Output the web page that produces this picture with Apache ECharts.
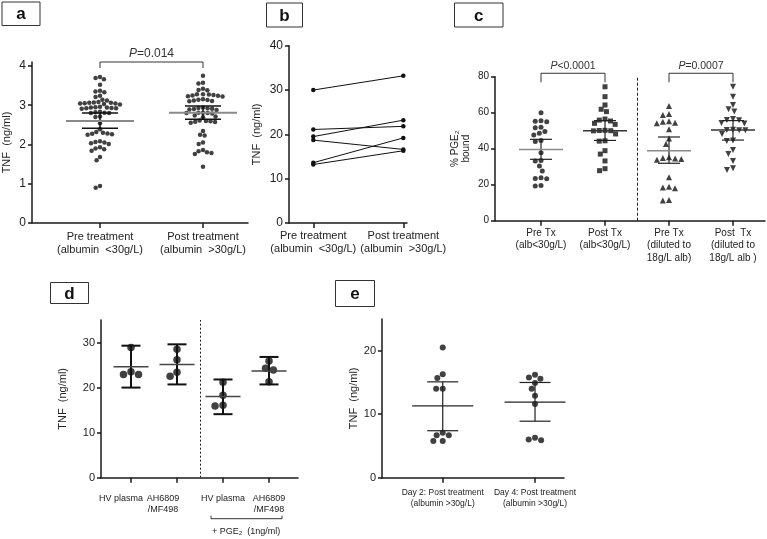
<!DOCTYPE html>
<html><head><meta charset="utf-8">
<script src="https://cdn.jsdelivr.net/npm/echarts@6/dist/echarts.min.js"></script>
<style>html,body{margin:0;padding:0;background:#fff}#c{width:767px;height:539px}</style>
</head><body><div id="c"></div>
<script>
// ---------------- DATA ----------------
const aCategories = ['Pre treatment\n(albumin  <30g/L)', 'Post treatment\n(albumin  >30g/L)'];
const aPre = [3.72, 3.69, 3.66, 3.52, 3.37, 3.35, 3.33, 3.24, 3.21, 3.14, 3.12,
  3.08, 3.07, 3.06, 3.06, 3.05, 3.04, 3.04, 3.03, 3.02,
  2.96, 2.95, 2.94, 2.94, 2.93, 2.92, 2.92, 2.91,
  2.83, 2.82, 2.81, 2.80, 2.80, 2.71, 2.70, 2.54, 2.39,
  2.32, 2.30, 2.28, 2.27, 2.26, 2.25,
  2.08, 2.06, 2.05, 2.03, 2.01, 1.93, 1.90, 1.88, 1.84,
  1.68, 1.60, 0.94, 0.90];
const aPost = [3.75, 3.57, 3.55, 3.42, 3.39, 3.38,
  3.28, 3.27, 3.25, 3.23, 3.22, 3.24, 3.26, 3.28,
  3.15, 3.13, 3.11, 3.10, 3.12, 3.14,
  2.94, 2.92, 2.90, 2.88, 2.91, 2.93, 2.89,
  2.81, 2.80, 2.80, 2.79, 2.81, 2.74, 2.71, 2.69,
  2.61, 2.59, 2.57, 2.55, 2.58, 2.60,
  2.34, 2.25, 2.23, 2.05, 2.01,
  1.86, 1.83, 1.80, 1.78, 1.76, 1.43];
const aMean = [2.60, 2.81];
const aLow = [2.41, 2.64];
const aHigh = [2.80, 2.98];
const aYTicks = [0, 1, 2, 3, 4];
const aPText = ['=0.014'];

const bCategories = ['Pre treatment\n(albumin  <30g/L)', 'Post treatment\n(albumin  >30g/L)'];
const bPre = [30.0, 21.1, 19.5, 18.7, 13.6, 13.2];
const bPost = [33.2, 21.8, 23.2, 16.6, 19.2, 16.3];

const cCategories = ['Pre Tx\n(alb<30g/L)', 'Post Tx\n(alb<30g/L)', 'Pre Tx\n(diluted to\n18g/L alb)', 'Post  Tx\n(diluted to\n18g/L alb )'];
const cPre = [60.0, 55.5, 55.2, 55.0, 51.9, 51.6, 49.5, 48.6, 47.6, 44.6, 44.0, 37.8, 33.5, 33.1, 30.4, 27.6, 23.9, 23.5, 23.3, 19.5, 19.3];
const cPost = [74.4, 68.9, 64.3, 61.9, 60.6, 56.5, 55.9, 55.4, 54.1, 53.5, 50.2, 50.1, 50.0, 49.9, 48.2, 44.4, 44.2, 38.9, 37.0, 33.2, 28.9, 27.8];
const cPreDil = [63.7, 59.3, 58.7, 55.0, 54.4, 54.1, 55.2, 50.8, 45.6, 42.6, 35.2, 34.8, 34.6, 34.3, 33.8, 24.1, 18.9, 18.4, 18.0, 11.5, 11.2];
const cPostDil = [74.4, 68.9, 64.3, 61.9, 60.6, 56.5, 56.0, 55.8, 54.3, 54.0, 50.5, 50.4, 50.3, 50.2, 48.2, 44.5, 44.3, 39.3, 37.0, 33.2, 29.1, 28.2];
const cMean = [39.5, 50.0, 38.9, 50.4];
const cLow = [34.1, 44.6, 31.9, 44.8];
const cHigh = [45.2, 55.6, 46.5, 55.6];
const cYTicks = [0, 20, 40, 60, 80];
const cPText = ['<0.0001', '=0.0007'];

const dCategories = ['HV plasma', 'AH6809\n/MF498', 'HV plasma', 'AH6809\n/MF498'];
const dHV = [28.9, 23.5, 22.9, 22.9];
const dAH = [28.5, 26.2, 22.5, 23.4];
const dHVPGE = [21.2, 18.3, 15.9, 16.1];
const dAHPGE = [25.9, 24.3, 23.9, 21.3];
const dMean = [24.6, 25.1, 18.0, 23.7];
const dLow = [20.0, 20.7, 14.1, 20.7];
const dHigh = [29.3, 29.6, 21.8, 26.8];
const dYTicks = [0, 10, 20, 30];
const dGroupLabel = '+ PGE₂  (1ng/ml)';

const eCategories = ['Day 2: Post treatment\n(albumin >30g/L)', 'Day 4: Post treatment\n(albumin >30g/L)'];
const eDay2 = [20.5, 16.3, 15.7, 14.0, 14.0, 7.1, 6.7, 6.7, 5.8, 5.8];
const eDay4 = [16.2, 15.8, 15.6, 14.9, 14.0, 12.9, 11.6, 6.3, 6.0, 5.9];
const eMean = [11.3, 11.9];
const eLow = [7.4, 8.9];
const eHigh = [15.1, 15.0];
const eYTicks = [0, 10, 20];

// ---------------- HELPERS ----------------
const FONT = '"Liberation Sans", Arial, sans-serif';
const INK = '#1a1a1a';

function xAx(g, min, max, cats, fs, margin, lh) {
  const vals = cats.map((_, i) => i + 1);
  return {
    gridIndex: g, type: 'value', min: min, max: max,
    axisLine: {show: true, onZero: false, lineStyle: {color: INK, width: 1.5}},
    axisTick: {show: true, customValues: vals, length: 5, lineStyle: {color: INK, width: 1.5}},
    axisLabel: {show: true, customValues: vals, formatter: v => cats[Math.round(v) - 1], hideOverlap: false,
      fontSize: fs, lineHeight: lh, margin: margin, color: '#222', fontFamily: FONT},
    splitLine: {show: false}
  };
}
function yAx(g, max, ticks, name, nameGap, fs, nfs) {
  return {
    gridIndex: g, type: 'value', min: 0, max: max,
    axisLine: {show: true, onZero: false, lineStyle: {color: INK, width: 1.5}},
    axisTick: {show: true, customValues: ticks, length: 4, lineStyle: {color: INK, width: 1.5}},
    axisLabel: {customValues: ticks, fontSize: fs, color: '#222', margin: 6, fontFamily: FONT},
    splitLine: {show: false},
    name: name, nameLocation: 'middle', nameGap: nameGap, nameRotate: 90,
    nameTextStyle: {fontSize: nfs, color: '#222', fontFamily: FONT, lineHeight: nfs + 1}
  };
}
function dotSeries(id, g, cat, values, symbol, size, rotate) {
  return {
    id: id, type: 'scatter', xAxisIndex: g, yAxisIndex: g, symbol: symbol, symbolSize: size,
    symbolRotate: rotate || 0, z: 3, silent: true,
    itemStyle: {color: '#111'},
    data: values.map(v => [cat, v])
  };
}
function statsSeries(g, means, lows, highs, cfg) {
  return {
    type: 'custom', xAxisIndex: g, yAxisIndex: g, z: 6, silent: true,
    data: means.map((m, i) => [i + 1, m, lows[i], highs[i]]),
    renderItem: (params, api) => {
      const x = api.value(0);
      const pm = api.coord([x, api.value(1)]);
      const pl = api.coord([x, api.value(2)]);
      const ph = api.coord([x, api.value(3)]);
      const i = params.dataIndex;
      const mc = Array.isArray(cfg.meanColor) ? cfg.meanColor[i] : cfg.meanColor;
      const cs = {stroke: cfg.capColor, lineWidth: cfg.capWidth};
      return {type: 'group', children: [
        {type: 'line', shape: {x1: pm[0], y1: ph[1], x2: pm[0], y2: pl[1]}, style: {stroke: cfg.capColor, lineWidth: cfg.vWidth}},
        {type: 'line', shape: {x1: pm[0] - cfg.capHalf, y1: ph[1], x2: pm[0] + cfg.capHalf, y2: ph[1]}, style: cs},
        {type: 'line', shape: {x1: pm[0] - cfg.capHalf, y1: pl[1], x2: pm[0] + cfg.capHalf, y2: pl[1]}, style: cs},
        {type: 'line', shape: {x1: pm[0] - cfg.meanHalf, y1: pm[1], x2: pm[0] + cfg.meanHalf, y2: pm[1]}, style: {stroke: mc, lineWidth: cfg.meanWidth}}
      ]};
    }
  };
}
function bracketSeries(g, pairs, top, legPx, texts, fs) {
  return {
    type: 'custom', xAxisIndex: g, yAxisIndex: g, z: 6, silent: true, clip: false,
    data: pairs.map(p => [p[0], p[1], top]),
    renderItem: (params, api) => {
      const a = api.coord([api.value(0), api.value(2)]);
      const b = api.coord([api.value(1), api.value(2)]);
      return {type: 'group', children: [
        {type: 'polyline', shape: {points: [[a[0], a[1] + legPx], [a[0], a[1]], [b[0], a[1]], [b[0], a[1] + legPx]]},
          style: {stroke: '#333', fill: null, lineWidth: 1}},
        {type: 'text', x: (a[0] + b[0]) / 2, y: a[1] - 2,
          style: {text: '{i|P}{n|' + texts[params.dataIndex] + '}', align: 'center', verticalAlign: 'bottom',
            rich: {i: {fontStyle: 'italic', fontSize: fs, fontFamily: FONT, fill: '#333'},
                   n: {fontSize: fs, fontFamily: FONT, fill: '#333'}}}}
      ]};
    }
  };
}

// ---------------- OPTION ----------------
const grids = [
  {left: 32, top: 62, width: 216, height: 161},
  {left: 289, top: 45.7, width: 118, height: 177.3},
  {left: 495, top: 76.7, width: 270, height: 144},
  {left: 101, top: 320, width: 197, height: 157.7},
  {left: 382, top: 319, width: 182, height: 158.7}
].map(g => Object.assign({containLabel: false, outerBoundsMode: 'none'}, g));

const bLines = bPre.map((v, i) => ({
  type: 'line', xAxisIndex: 1, yAxisIndex: 1, symbol: 'circle', symbolSize: 4.5, silent: true,
  lineStyle: {color: '#111', width: 1}, itemStyle: {color: '#111'},
  data: [[1, v], [2, bPost[i]]]
}));

const dX = xAx(3, 0.348, 4.63, dCategories, 9, 15, 11);
dX.axisLabel.show = false;
const dLabelShift = [-10, -14, 0, 0];

const option = {
  animation: false,
  backgroundColor: '#fff',
  textStyle: {fontFamily: FONT},
  grid: grids,
  xAxis: [
    xAx(0, 0.3398, 2.437, aCategories, 11, 8, 12.5),
    xAx(1, 0.73, 2.041, bCategories, 11, 6, 13),
    xAx(2, 0.281, 4.5, cCategories, 10, 6, 12.5),
    dX,
    xAx(4, 0.342, 2.314, eCategories, 8.5, 9, 11)
  ],
  yAxis: [
    yAx(0, 4.1, aYTicks, 'TNF  (ng/ml)', 19, 12, 11),
    yAx(1, 40, [0, 10, 20, 30, 40], 'TNF  (ng/ml)', 26, 12, 11),
    yAx(2, 80, cYTicks, '% PGE₂\nbound', 23, 10, 10),
    yAx(3, 35, dYTicks, 'TNF  (ng/ml)', 32, 11, 11),
    yAx(4, 25, eYTicks, 'TNF  (ng/ml)', 22, 11, 11)
  ],
  series: [
    dotSeries('aPre', 0, 1, aPre, 'circle', 4.5),
    dotSeries('aPost', 0, 2, aPost, 'circle', 4.5),
    statsSeries(0, aMean, aLow, aHigh, {meanHalf: 34, capHalf: 18, meanColor: '#8a8a8a', meanWidth: 2, capColor: '#111', capWidth: 1.5, vWidth: 1.5}),
    bracketSeries(0, [[1, 2]], 4.1, 6, aPText, 12),

    ...bLines,

    Object.assign(dotSeries('cPre', 2, 1, cPre, 'circle', 5), {
      markLine: {silent: true, symbol: 'none', label: {show: false},
        lineStyle: {type: [3, 2], color: '#222', width: 1}, data: [{xAxis: 2.5}]}
    }),
    dotSeries('cPost', 2, 2, cPost, 'rect', 5),
    dotSeries('cPreDil', 2, 3, cPreDil, 'triangle', 6),
    dotSeries('cPostDil', 2, 4, cPostDil, 'triangle', 6, 180),
    statsSeries(2, cMean, cLow, cHigh, {meanHalf: 22, capHalf: 11, meanColor: ['#8a8a8a', '#333', '#8a8a8a', '#333'], meanWidth: 1.5, capColor: '#222', capWidth: 1.2, vWidth: 1.2}),
    bracketSeries(2, [[1, 2], [3, 4]], 81.9, 9, cPText, 10.5),

    Object.assign(dotSeries('dHV', 3, 1, dHV, 'circle', 7.5), {
      markLine: {silent: true, symbol: 'none', label: {show: false},
        lineStyle: {type: [2, 2], color: '#222', width: 1}, data: [{xAxis: 2.5}]}
    }),
    dotSeries('dAH', 3, 2, dAH, 'circle', 7.5),
    dotSeries('dHVPGE', 3, 3, dHVPGE, 'circle', 7.5),
    dotSeries('dAHPGE', 3, 4, dAHPGE, 'circle', 7.5),
    statsSeries(3, dMean, dLow, dHigh, {meanHalf: 17.5, capHalf: 9.5, meanColor: '#444', meanWidth: 1.5, capColor: '#111', capWidth: 2, vWidth: 2}),
    {
      // category labels of panel d (axis labels drawn at the category positions)
      type: 'custom', xAxisIndex: 3, yAxisIndex: 3, silent: true, clip: false,
      data: dCategories.map((_, i) => [i + 1, 0]),
      renderItem: (params, api) => {
        const p = api.coord([api.value(0), 0]);
        return {type: 'text', x: p[0] + dLabelShift[params.dataIndex], y: p[1] + 15,
          style: {text: dCategories[params.dataIndex], align: 'center', verticalAlign: 'top',
            fontSize: 9, lineHeight: 11, fontFamily: FONT, fill: '#222'}};
      }
    },
    {
      type: 'custom', xAxisIndex: 3, yAxisIndex: 3, silent: true, clip: false,
      data: [[3, 4]],
      renderItem: (params, api) => {
        const p3 = api.coord([api.value(0), 0]);
        const p4 = api.coord([api.value(1), 0]);
        const y = p3[1] + 41;
        return {type: 'group', children: [
          {type: 'polyline', shape: {points: [[p3[0] - 12, y - 3], [p3[0] - 12, y], [p4[0] + 13, y], [p4[0] + 13, y - 3]]},
            style: {stroke: '#333', fill: null, lineWidth: 1}},
          {type: 'text', x: (p3[0] + p4[0]) / 2, y: y + 8,
            style: {text: dGroupLabel, align: 'center', verticalAlign: 'top', fontSize: 9, fontFamily: FONT, fill: '#222'}}
        ]};
      }
    },

    dotSeries('eDay2', 4, 1, eDay2, 'circle', 6),
    dotSeries('eDay4', 4, 2, eDay4, 'circle', 6),
    statsSeries(4, eMean, eLow, eHigh, {meanHalf: 30.5, capHalf: 15.5, meanColor: '#222', meanWidth: 1.2, capColor: '#222', capWidth: 1.2, vWidth: 1.2})
  ],
  graphic: [
    ['a', 1.5, 1.5, 38, 23.5], ['b', 266, 2.5, 36, 24], ['c', 454, 2.5, 48.5, 24],
    ['d', 50, 282, 38, 21], ['e', 335, 280, 39, 26]
  ].map(([t, x, y, w, h]) => ({
    type: 'group', left: x, top: y, children: [
      {type: 'rect', shape: {x: 0, y: 0, width: w, height: h}, style: {fill: '#fff', stroke: '#333', lineWidth: 1}},
      {type: 'text', x: w / 2, y: h / 2 + 1, style: {text: t, align: 'center', verticalAlign: 'middle', fontSize: 17, fontWeight: 'bold', fontFamily: FONT, fill: '#111'}}
    ]
  }))
};

const chart = echarts.init(document.getElementById('c'));
chart.setOption(option);

// ---------------- beeswarm layout (pixel space) ----------------
function swarm(ys, d) {
  const idx = ys.map((_, i) => i).sort((p, q) => ys[p] - ys[q]);
  const placed = [], off = new Array(ys.length);
  idx.forEach(i => {
    const y = ys[i];
    const iv = [];
    placed.forEach(p => {
      const dy = Math.abs(p.y - y);
      if (dy < d) { const dx = Math.sqrt(d * d - dy * dy); iv.push([p.x - dx, p.x + dx]); }
    });
    const cands = [0];
    iv.forEach(([l, r]) => cands.push(l, r));
    cands.sort((u, v) => Math.abs(u) - Math.abs(v) || u - v);
    let x = 0;
    for (const c of cands) {
      if (iv.every(([l, r]) => c <= l + 1e-6 || c >= r - 1e-6)) { x = c; break; }
    }
    placed.push({x: x, y: y});
    off[i] = x;
  });
  return off;
}
const swarmSpecs = [
  ['aPre', 0, 1, aPre, 4.6], ['aPost', 0, 2, aPost, 4.6],
  ['cPre', 2, 1, cPre, 5.8], ['cPost', 2, 2, cPost, 5.8], ['cPreDil', 2, 3, cPreDil, 6.2], ['cPostDil', 2, 4, cPostDil, 6.2],
  ['dHV', 3, 1, dHV, 8], ['dAH', 3, 2, dAH, 8], ['dHVPGE', 3, 3, dHVPGE, 8], ['dAHPGE', 3, 4, dAHPGE, 8],
  ['eDay2', 4, 1, eDay2, 6.6], ['eDay4', 4, 2, eDay4, 6.6]
];
const updates = swarmSpecs.map(([id, g, cat, vals, d]) => {
  const finder = {xAxisIndex: g, yAxisIndex: g};
  const px = vals.map(v => chart.convertToPixel(finder, [cat, v]));
  const off = swarm(px.map(p => p[1]), d);
  return {id: id, data: vals.map((v, i) => [chart.convertFromPixel(finder, [px[i][0] + off[i], px[i][1]])[0], v])};
});
chart.setOption({series: updates});
</script>
</body></html>
